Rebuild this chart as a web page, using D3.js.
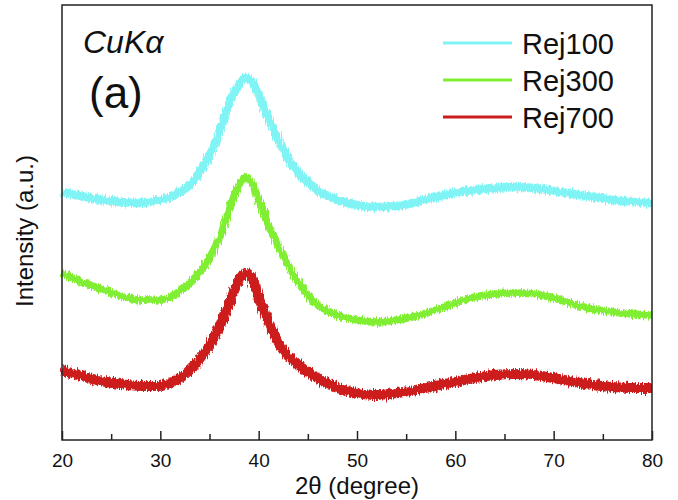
<!DOCTYPE html>
<html>
<head>
<meta charset="utf-8">
<script src="https://cdn.jsdelivr.net/npm/d3@7/dist/d3.min.js"></script>
<style>
  body { margin: 0; background: #fff; }
  svg text { font-family: "Liberation Sans", Arial, sans-serif; fill: #111; }
</style>
</head>
<body>
<svg id="chart" width="678" height="500"></svg>
<script>
// 2theta positions (degree)
var twoTheta = [20,22,24,26,28,30,31,32,33,34,35,36,37,38,38.7,39.4,40,41,42,43,44,45,46,48,50,52,54,56,58,60,62,64,66,68,70,72,74,76,78,80];
// intensity (a.u.)
var rej100 = [248,244,240,238,237,240,243,248,255,268,285,308,336,356,362,357,345,322,300,282,268,258,250,240,235,233,234,238,243,247,250,252,253,252,249,246,243,240,238,237];
var rej300 = [167,158,151,144,140,140,143,149,157,168,182,202,230,255,263,255,240,215,193,175,158,145,135,125,120,118,120,124,130,137,143,146,147,146,142,136,131,128,126,125];
var rej700 = [70,64,59,56,54,54,57,62,70,80,95,113,137,160,167,160,142,118,97,84,75,68,62,52,47,45,47,50,54,58,62,65,66,65,62,58,55,53,52,52];
var seriesNames = ["Rej100", "Rej300", "Rej700"];
var colors = ["#80f4f4", "#80ee30", "#cc1c1e"];
var xTicks = [20,30,40,50,60,70,80];

var svg = d3.select("#chart");
var mLeft = 62, mRight = 652, mTop = 5, mBottom = 440;

var x = d3.scaleLinear().domain([20, 80]).range([mLeft, mRight]);
var y = d3.scaleLinear().domain([0, 435]).range([mBottom, mTop]);

// jagged look of the raw scans
var defs = svg.append("defs");
var f = defs.append("filter").attr("id", "noisy")
    .attr("x", "-5%").attr("y", "-20%").attr("width", "110%").attr("height", "140%");
f.append("feTurbulence").attr("type", "fractalNoise")
    .attr("baseFrequency", "0.8 0.12").attr("numOctaves", 2).attr("seed", 3).attr("result", "t");
f.append("feDisplacementMap").attr("in", "SourceGraphic").attr("in2", "t")
    .attr("scale", 7).attr("xChannelSelector", "R").attr("yChannelSelector", "G");

var line = d3.line().curve(d3.curveMonotoneX);
var allSeries = [rej100, rej300, rej700];
var widths = [8.5, 7.5, 10];

allSeries.forEach(function(vals, i) {
    var pts = twoTheta.map(function(t, j) { return [x(t), y(vals[j])]; });
    svg.append("path")
        .attr("d", line(pts))
        .attr("fill", "none")
        .attr("stroke", colors[i])
        .attr("stroke-width", widths[i])
        .attr("filter", "url(#noisy)");
});

// frame
svg.append("rect")
    .attr("x", mLeft).attr("y", mTop)
    .attr("width", mRight - mLeft).attr("height", mBottom - mTop)
    .attr("fill", "none").attr("stroke", "#222").attr("stroke-width", 1.5);

// bottom axis, ticks inward
var xAxis = d3.axisBottom(x).tickValues(d3.range(20, 81, 5))
    .tickSize(-9).tickPadding(14)
    .tickFormat(function(d) { return xTicks.indexOf(d) >= 0 ? d : ""; });
var gx = svg.append("g").attr("transform", "translate(0," + mBottom + ")").call(xAxis);
gx.select(".domain").remove();
gx.attr("font-size", null).attr("font-family", null);
gx.selectAll(".tick line").attr("stroke", "#222").attr("stroke-width", 1.5)
    .attr("y2", function(d) { return d % 10 === 0 ? -9 : -6; });
gx.selectAll(".tick text").style("font-size", "19px");

svg.append("text").attr("x", 357).attr("y", 494)
    .attr("text-anchor", "middle").style("font-size", "24px")
    .text("2θ (degree)");

svg.append("text")
    .attr("transform", "translate(33,231) rotate(-90)")
    .attr("text-anchor", "middle").style("font-size", "24px")
    .text("Intensity (a.u.)");

svg.append("text").attr("x", 83).attr("y", 53)
    .style("font-size", "32px").style("font-style", "italic")
    .text("CuKα");
svg.append("text").attr("x", 89).attr("y", 108)
    .style("font-size", "44px")
    .text("(a)");

// legend
var lg = svg.append("g");
seriesNames.forEach(function(n, i) {
    var ly = 43 + i * 37;
    lg.append("line").attr("x1", 443).attr("x2", 512).attr("y1", ly).attr("y2", ly)
        .attr("stroke", colors[i]).attr("stroke-width", 3);
    lg.append("text").attr("x", 522).attr("y", ly + 11)
        .style("font-size", "29px").text(n);
});
</script>
</body>
</html>
